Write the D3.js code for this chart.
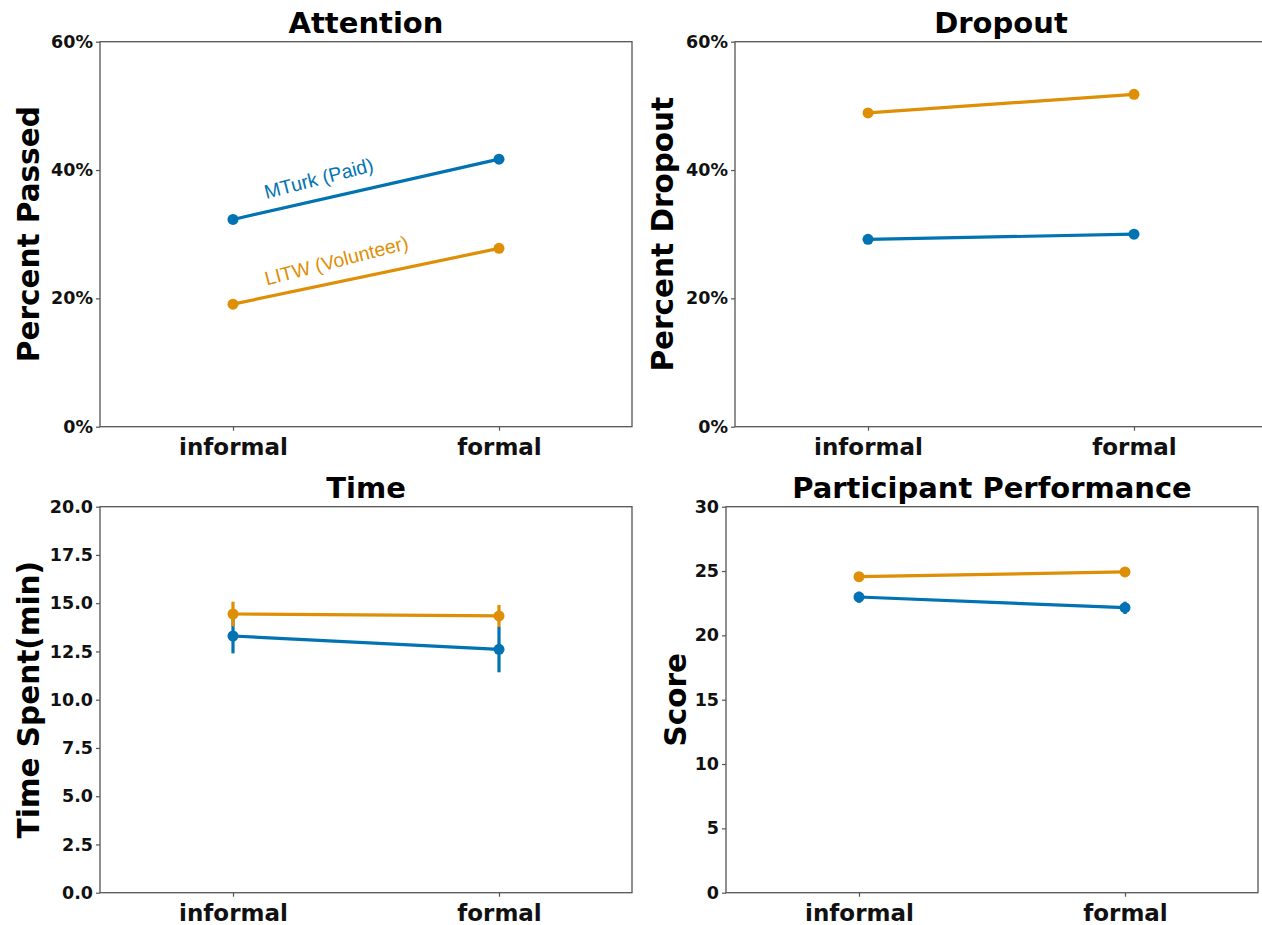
<!DOCTYPE html>
<html>
<head>
<meta charset="utf-8">
<script src="https://cdn.jsdelivr.net/npm/d3@7"></script>
<style>
  html, body { margin: 0; padding: 0; background: #fff; }
  svg { display: block; }
</style>
</head>
<body>
<svg id="chart" width="1262" height="925"></svg>
<script>
// ---------------- DATA ----------------
const categories = ["informal", "formal"];
const seriesNames = ["MTurk (Paid)", "LITW (Volunteer)"];
const seriesColors = ["#0173B2", "#DE8F05"];

// Attention (fraction passed)
const attentionMTurk = [0.323, 0.417];
const attentionLITW  = [0.191, 0.278];

// Dropout (fraction)
const dropoutMTurk = [0.292, 0.300];
const dropoutLITW  = [0.489, 0.518];

// Time spent (minutes) with confidence intervals
const timeMTurk    = [13.30, 12.61];
const timeMTurkLo  = [12.40, 11.42];
const timeMTurkHi  = [14.20, 13.80];
const timeLITW     = [14.44, 14.34];
const timeLITWLo   = [13.80, 13.77];
const timeLITWHi   = [15.08, 14.91];

// Performance (score) with confidence intervals
const scoreMTurk   = [22.98, 22.15];
const scoreMTurkLo = [22.53, 21.66];
const scoreMTurkHi = [23.39, 22.62];
const scoreLITW    = [24.56, 24.93];
const scoreLITWLo  = [24.42, 24.80];
const scoreLITWHi  = [24.70, 25.06];

const pctTicks   = [0, 0.2, 0.4, 0.6];
const timeTicks  = [0, 2.5, 5, 7.5, 10, 12.5, 15, 17.5, 20];
const scoreTicks = [0, 5, 10, 15, 20, 25, 30];

// ---------------- PANELS ----------------
const panels = [
  { title: "Attention", ylabel: "Percent Passed", box: [100, 632, 41.7, 426.7],
    domain: [0, 0.6], ticks: pctTicks, fmt: d3.format(".0%"), labelOffset: 61,
    series: [ {v: attentionMTurk}, {v: attentionLITW} ],
    annotations: [
      { text: seriesNames[0], x: 0.125, y: 0.355, color: seriesColors[0] },
      { text: seriesNames[1], x: 0.127, y: 0.220, color: seriesColors[1] }
    ] },
  { title: "Dropout", ylabel: "Percent Dropout", box: [735, 1267, 41.7, 426.7],
    domain: [0, 0.6], ticks: pctTicks, fmt: d3.format(".0%"), labelOffset: 62,
    series: [ {v: dropoutMTurk}, {v: dropoutLITW} ], annotations: [] },
  { title: "Time", ylabel: "Time Spent(min)", box: [100, 632, 506.7, 892.7],
    domain: [0, 20], ticks: timeTicks, fmt: d3.format(".1f"), labelOffset: 61,
    series: [ {v: timeMTurk, lo: timeMTurkLo, hi: timeMTurkHi},
              {v: timeLITW, lo: timeLITWLo, hi: timeLITWHi} ], annotations: [] },
  { title: "Participant Performance", ylabel: "Score", box: [726, 1258, 506.7, 892.7],
    domain: [0, 30], ticks: scoreTicks, fmt: d3.format("d"), labelOffset: 40,
    series: [ {v: scoreMTurk, lo: scoreMTurkLo, hi: scoreMTurkHi},
              {v: scoreLITW, lo: scoreLITWLo, hi: scoreLITWHi} ], annotations: [] }
];

const svg = d3.select("#chart");
const boldFont = "'DejaVu Sans', sans-serif";

panels.forEach(p => {
  const [x0, x1, y0, y1] = p.box;
  const x = d3.scalePoint().domain(categories).range([x0, x1]).padding(0.5);
  const xl = d3.scaleLinear().domain([-0.5, 1.5]).range([x0, x1]);
  const y = d3.scaleLinear().domain(p.domain).range([y1, y0]);
  const g = svg.append("g");

  // frame
  g.append("rect").attr("x", x0).attr("y", y0).attr("width", x1 - x0).attr("height", y1 - y0)
    .attr("fill", "none").attr("stroke", "#555").attr("stroke-width", 1.3);

  // y axis
  const yAxis = d3.axisLeft(y).tickValues(p.ticks).tickFormat(p.fmt).tickSize(4).tickPadding(3);
  const ya = g.append("g").attr("transform", `translate(${x0},0)`).call(yAxis);
  ya.select(".domain").remove();
  ya.selectAll(".tick line").attr("stroke", "#555").attr("stroke-width", 1.2);
  ya.selectAll(".tick text").attr("font-family", boldFont).attr("font-weight", "bold")
    .attr("font-size", 17.5).attr("fill", "#111");

  // x axis
  const xAxis = d3.axisBottom(x).tickSize(4).tickPadding(6);
  const xa = g.append("g").attr("transform", `translate(0,${y1})`).call(xAxis);
  xa.select(".domain").remove();
  xa.selectAll(".tick line").attr("stroke", "#555").attr("stroke-width", 1.2);
  xa.selectAll(".tick text").attr("font-family", boldFont).attr("font-weight", "bold")
    .attr("font-size", 23).attr("fill", "#111").attr("dy", "0.78em");

  // title
  g.append("text").attr("x", (x0 + x1) / 2).attr("y", y0 - 9)
    .attr("text-anchor", "middle").attr("font-family", boldFont).attr("font-weight", "bold")
    .attr("font-size", 29).attr("fill", "#000").text(p.title);

  // y label
  g.append("text").attr("transform", `translate(${x0 - p.labelOffset},${(y0 + y1) / 2}) rotate(-90)`)
    .attr("text-anchor", "middle").attr("font-family", boldFont).attr("font-weight", "bold")
    .attr("font-size", 29.5).attr("fill", "#000").text(p.ylabel);

  // series
  p.series.forEach((s, si) => {
    const color = seriesColors[si];
    const pts = categories.map((c, i) => ({ c, v: s.v[i], lo: s.lo ? s.lo[i] : null, hi: s.hi ? s.hi[i] : null }));
    if (s.lo) {
      g.selectAll(null).data(pts).enter().append("line")
        .attr("x1", d => x(d.c)).attr("x2", d => x(d.c))
        .attr("y1", d => y(d.lo)).attr("y2", d => y(d.hi))
        .attr("stroke", color).attr("stroke-width", 3.2);
    }
    g.append("path").datum(pts)
      .attr("d", d3.line().x(d => x(d.c)).y(d => y(d.v)))
      .attr("fill", "none").attr("stroke", color).attr("stroke-width", 3.2);
    g.selectAll(null).data(pts).enter().append("circle")
      .attr("cx", d => x(d.c)).attr("cy", d => y(d.v)).attr("r", 5.5).attr("fill", color);
  });

  // annotations
  p.annotations.forEach(a => {
    g.append("text")
      .attr("transform", `translate(${xl(a.x)},${y(a.y)}) rotate(-14.5)`)
      .attr("font-family", "'Liberation Sans', Arial, sans-serif")
      .attr("font-size", 19.5).attr("fill", a.color).text(a.text);
  });
});
</script>
</body>
</html>
